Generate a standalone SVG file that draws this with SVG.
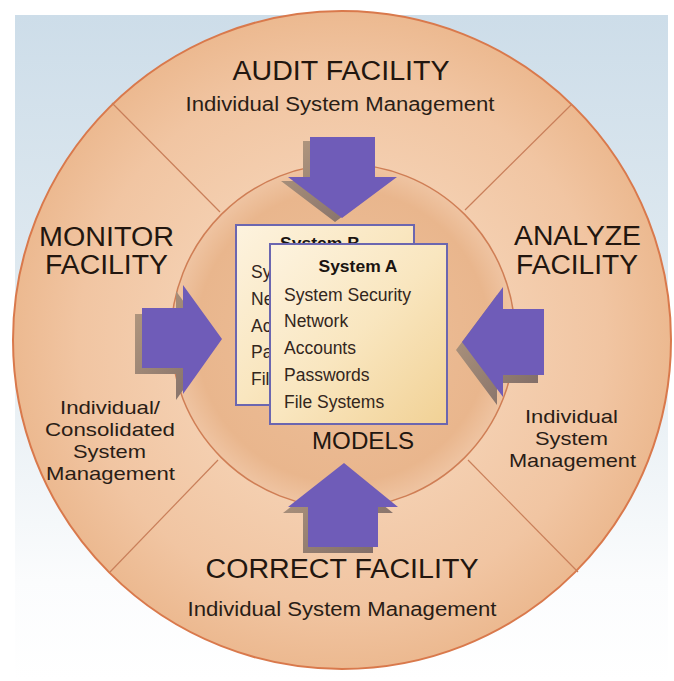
<svg xmlns="http://www.w3.org/2000/svg" width="674" height="681" viewBox="0 0 674 681">
<defs>
  <linearGradient id="bg" x1="0" y1="0" x2="0" y2="1">
    <stop offset="0" stop-color="#cddde9"/>
    <stop offset="0.55" stop-color="#e6eef3"/>
    <stop offset="0.85" stop-color="#fbfcfd"/>
    <stop offset="1" stop-color="#ffffff"/>
  </linearGradient>
  <radialGradient id="ring" cx="0.5" cy="0.5" r="0.5">
    <stop offset="0.5" stop-color="#f4cfb0"/>
    <stop offset="0.8" stop-color="#f1c5a2"/>
    <stop offset="1" stop-color="#ecb990"/>
  </radialGradient>
  <radialGradient id="core" cx="0.5" cy="0.5" r="0.5">
    <stop offset="0" stop-color="#eec19c"/>
    <stop offset="0.85" stop-color="#e9b68d"/>
    <stop offset="1" stop-color="#efc4a2"/>
  </radialGradient>
  <linearGradient id="boxfill" x1="0" y1="0" x2="1" y2="1">
    <stop offset="0" stop-color="#fdf3df"/>
    <stop offset="0.5" stop-color="#f9e6bf"/>
    <stop offset="1" stop-color="#f1d195"/>
  </linearGradient>
  <linearGradient id="shadow" x1="0" y1="0" x2="1" y2="1">
    <stop offset="0" stop-color="#b49a80"/>
    <stop offset="1" stop-color="#7d6a66"/>
  </linearGradient>
</defs>
<style>
  text { font-family: "Liberation Sans", Arial, sans-serif; fill: #22160f; }
  .big { font-size: 27px; text-anchor: middle; }
  .sub { font-size: 20px; text-anchor: middle; fill: #2a1d16; }
  .side { font-size: 19px; text-anchor: middle; fill: #2a1d16; }
  .models { font-size: 23px; text-anchor: middle; }
  .boxtitle { font-size: 17px; font-weight: bold; text-anchor: middle; fill: #1a1410; }
  .item { font-size: 17.5px; fill: #33261c; }
  .box { fill: url(#boxfill); stroke: #6b66b0; stroke-width: 2; }
  .arrow { fill: #6f5cb8; }
  .ashadow { fill: url(#shadow); }
  .divider { stroke: #c97f5a; stroke-width: 1.2; fill: none; }
</style>

<g id="background">
  <rect x="0" y="0" width="674" height="681" fill="#ffffff"/>
  <rect x="15" y="15" width="653" height="666" fill="url(#bg)"/>
</g>

<g id="wheel">
  <circle cx="342" cy="340" r="329" fill="url(#ring)" stroke="#d9794c" stroke-width="2"/>
  <line class="divider" x1="112" y1="103" x2="220" y2="212"/>
  <line class="divider" x1="572" y1="104" x2="465" y2="210"/>
  <line class="divider" x1="110" y1="572" x2="218" y2="460"/>
  <line class="divider" x1="578" y1="572" x2="468" y2="460"/>
  <circle cx="343" cy="336" r="172" fill="url(#core)" stroke="#cf7e55" stroke-width="1.5"/>
</g>

<g id="audit">
  <text class="big" x="341" y="80" textLength="217" lengthAdjust="spacingAndGlyphs">AUDIT FACILITY</text>
  <text class="sub" x="340" y="111" textLength="309" lengthAdjust="spacingAndGlyphs">Individual System Management</text>
</g>

<g id="monitor">
  <text class="big" x="106.5" y="246" textLength="135" lengthAdjust="spacingAndGlyphs">MONITOR</text>
  <text class="big" x="106.5" y="274" textLength="123" lengthAdjust="spacingAndGlyphs">FACILITY</text>
  <text class="side" x="110" y="414" textLength="100" lengthAdjust="spacingAndGlyphs">Individual/</text>
  <text class="side" x="110" y="436" textLength="130" lengthAdjust="spacingAndGlyphs">Consolidated</text>
  <text class="side" x="109.5" y="458" textLength="73" lengthAdjust="spacingAndGlyphs">System</text>
  <text class="side" x="110.5" y="480" textLength="129" lengthAdjust="spacingAndGlyphs">Management</text>
</g>

<g id="analyze">
  <text class="big" x="577.5" y="245" textLength="127" lengthAdjust="spacingAndGlyphs">ANALYZE</text>
  <text class="big" x="577" y="274" textLength="122" lengthAdjust="spacingAndGlyphs">FACILITY</text>
  <text class="side" x="571.5" y="423" textLength="93" lengthAdjust="spacingAndGlyphs">Individual</text>
  <text class="side" x="571.5" y="445" textLength="73" lengthAdjust="spacingAndGlyphs">System</text>
  <text class="side" x="572.5" y="467" textLength="127" lengthAdjust="spacingAndGlyphs">Management</text>
</g>

<g id="correct">
  <text class="big" x="342" y="578" textLength="273" lengthAdjust="spacingAndGlyphs">CORRECT FACILITY</text>
  <text class="sub" x="342" y="615.5" textLength="309" lengthAdjust="spacingAndGlyphs">Individual System Management</text>
</g>

<g id="connectors">
  <g id="arrow-audit">
    <polygon class="ashadow" points="303,141 368,141 368,181 390,181 335,222 281,181 303,181"/>
    <polygon class="arrow" points="310,137 375,137 375,177 397,177 342,218 288,177 310,177"/>
  </g>
  <g id="arrow-monitor">
    <polygon class="ashadow" points="135,314 176,314 176,291 215,345 176,400 176,374 135,374"/>
    <polygon class="arrow" points="142,308 183,308 183,285 222,339 183,394 183,368 142,368"/>
  </g>
  <g id="arrow-analyze">
    <polygon class="ashadow" points="538,317 497,317 497,295 456,350 497,405 497,383 538,383"/>
    <polygon class="arrow" points="544,309 503,309 503,287 462,342 503,397 503,375 544,375"/>
  </g>
  <g id="arrow-correct">
    <polygon class="ashadow" points="339,469 393,513 373,513 373,553 303,553 303,513 283,513"/>
    <polygon class="arrow" points="344,463 398,507 378,507 378,547 308,547 308,507 288,507"/>
  </g>
</g>

<g id="models">
  <text class="models" x="363" y="449" textLength="102" lengthAdjust="spacingAndGlyphs">MODELS</text>
</g>

<g id="system-b">
  <rect class="box" x="236" y="225" width="178" height="180"/>
  <text class="boxtitle" x="320" y="249" textLength="80" lengthAdjust="spacingAndGlyphs">System B</text>
  <text class="item" x="251" y="278">Sy</text>
  <text class="item" x="251" y="305">Ne</text>
  <text class="item" x="251" y="332">Ac</text>
  <text class="item" x="251" y="358">Pa</text>
  <text class="item" x="251" y="385">Fil</text>
</g>

<g id="system-a">
  <rect class="box" x="270" y="244" width="177" height="180"/>
  <text class="boxtitle" x="358" y="272" textLength="79" lengthAdjust="spacingAndGlyphs">System A</text>
  <text class="item" x="284" y="301" textLength="127" lengthAdjust="spacingAndGlyphs">System Security</text>
  <text class="item" x="284" y="327">Network</text>
  <text class="item" x="284" y="354">Accounts</text>
  <text class="item" x="284" y="381">Passwords</text>
  <text class="item" x="284" y="408">File Systems</text>
</g>
</svg>
